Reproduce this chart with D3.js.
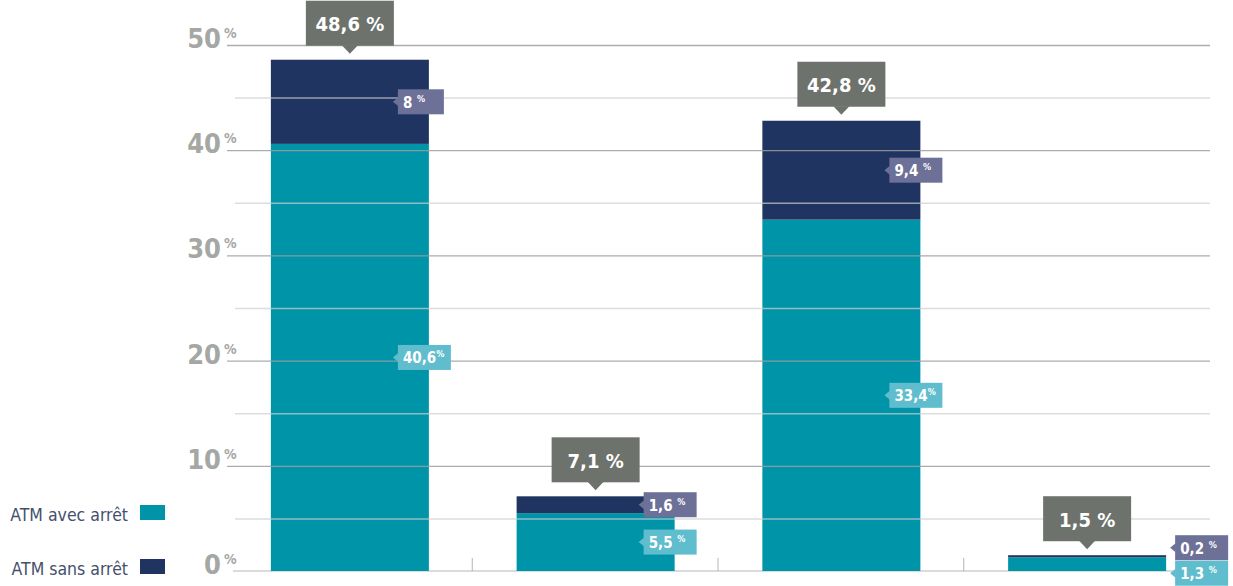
<!DOCTYPE html>
<html>
<head>
<meta charset="utf-8">
<script src="https://cdn.jsdelivr.net/npm/d3@7"></script>
<style>
  body { margin: 0; background: #fff; }
  svg { display: block; }
  text { font-family: "DejaVu Sans Condensed", "DejaVu Sans", sans-serif; }
</style>
</head>
<body>
<svg id="chart" width="1233" height="586"></svg>
<script>
// data
const categories = ["1", "2", "3", "4"];
const avecArret = [40.6, 5.5, 33.4, 1.3];
const sansArret = [8, 1.6, 9.4, 0.2];
const totals = [48.6, 7.1, 42.8, 1.5];
const seriesNames = ["ATM avec arrêt", "ATM sans arrêt"];

// colours
const teal = "#0094a9";
const navy = "#1f3460";
const totalGrey = "#6e726c";
const sansLabel = "#6d7097";
const avecLabel = "#5fbdcd";
const axisGrey = "#a5a7a4";

const svg = d3.select("#chart");

const y = d3.scaleLinear().domain([0, 50]).range([571, 45]);
const x = d3.scaleBand()
  .domain(categories)
  .range([227, 1210])
  .paddingInner(0.357)
  .paddingOuter(0.1785);

const fmt = v => String(v).replace(".", ",");

// baseline + category separators
svg.append("line")
  .attr("x1", 233).attr("x2", 1210)
  .attr("y1", y(0)).attr("y2", y(0))
  .attr("stroke", "#cfcfcf").attr("stroke-width", 1.5);

categories.slice(1).forEach(c => {
  const sx = x(c) - x.step() * x.paddingInner() / 2 - 0.5;
  svg.append("line")
    .attr("x1", sx).attr("x2", sx)
    .attr("y1", y(0) - 13).attr("y2", y(0))
    .attr("stroke", "#b5b5b5");
});

// bars
const bars = svg.append("g");
categories.forEach((c, i) => {
  bars.append("rect")
    .attr("x", x(c)).attr("width", x.bandwidth())
    .attr("y", y(avecArret[i])).attr("height", y(0) - y(avecArret[i]))
    .attr("fill", teal);
  bars.append("rect")
    .attr("x", x(c)).attr("width", x.bandwidth())
    .attr("y", y(totals[i])).attr("height", y(avecArret[i]) - y(totals[i]))
    .attr("fill", navy);
});

// gridlines on top of the bars (faint)
const minorTicks = d3.range(5, 50, 10);
svg.append("g").selectAll("line")
  .data(minorTicks)
  .join("line")
  .attr("x1", 235).attr("x2", 1210)
  .attr("y1", d => y(d) + 0.5).attr("y2", d => y(d) + 0.5)
  .attr("stroke", "#cfcfcf").attr("stroke-opacity", 0.7)
  .attr("stroke-width", 1.5);

const majorTicks = y.ticks(5).filter(d => d > 0);
svg.append("g").selectAll("line")
  .data(majorTicks)
  .join("line")
  .attr("x1", 227).attr("x2", 1210)
  .attr("y1", d => y(d) + 0.5).attr("y2", d => y(d) + 0.5)
  .attr("stroke", "#9e9e9e").attr("stroke-opacity", 0.85)
  .attr("stroke-width", 1.3);

// y axis labels
const yLab = svg.append("g").selectAll("g")
  .data(y.ticks(5))
  .join("g")
  .attr("transform", d => `translate(221,${y(d) + 3})`);
yLab.append("text")
  .attr("text-anchor", "end")
  .attr("font-size", 27).attr("font-weight", "bold")
  .attr("fill", axisGrey)
  .text(d => d);
yLab.append("text")
  .attr("x", 3).attr("y", -10)
  .attr("font-size", 14).attr("font-weight", "bold")
  .attr("fill", axisGrey)
  .text("%");

// total callouts
const boxW = 88, boxH = 45, gap = 14;
categories.forEach((c, i) => {
  const cx = x(c) + x.bandwidth() / 2;
  const bottom = y(totals[i]) - gap;
  const g = svg.append("g");
  g.append("rect")
    .attr("x", cx - boxW / 2).attr("y", bottom - boxH)
    .attr("width", boxW).attr("height", boxH)
    .attr("fill", totalGrey);
  g.append("path")
    .attr("d", `M${cx - 8},${bottom - 0.5}L${cx + 8},${bottom - 0.5}L${cx},${bottom + 8}Z`)
    .attr("fill", totalGrey);
  g.append("text")
    .attr("x", cx).attr("y", bottom - boxH / 2 + 8)
    .attr("text-anchor", "middle")
    .attr("font-size", 20).attr("font-weight", "bold")
    .attr("fill", "#fff")
    .text(fmt(totals[i]) + " %");
});

// segment labels
function segLabel(lx, cy, value, fill) {
  const w = value === 8 ? 46 : 53;
  const h = 25;
  const g = svg.append("g");
  g.append("rect")
    .attr("x", lx).attr("y", cy - h / 2)
    .attr("width", w).attr("height", h)
    .attr("fill", fill);
  g.append("path")
    .attr("d", `M${lx + 0.5},${cy - 4.5}L${lx - 5},${cy}L${lx + 0.5},${cy + 4.5}Z`)
    .attr("fill", fill);
  const t = g.append("text")
    .attr("x", lx + 5).attr("y", cy + 6)
    .attr("font-size", 15).attr("font-weight", "bold")
    .attr("fill", "#fff");
  // values under 10 get a space before the %
  t.append("tspan").text(fmt(value) + (value < 10 ? " " : ""));
  t.append("tspan").attr("dy", -6).attr("font-size", 9).text("%");
}

categories.forEach((c, i) => {
  let ySans = y(avecArret[i] + sansArret[i] / 2);
  let yAvec = y(avecArret[i] / 2);
  let lx = x(c) + x.bandwidth() - 31;
  // labels too close: push them apart and move beside the bar
  if (yAvec - ySans < 26) {
    const mid = (ySans + yAvec) / 2;
    ySans = mid - 12.5;
    yAvec = mid + 13;
    lx = x(c) + x.bandwidth() + 9;
  }
  segLabel(lx, ySans, sansArret[i], sansLabel);
  segLabel(lx, yAvec, avecArret[i], avecLabel);
});

// legend
const legend = svg.append("g").selectAll("g")
  .data(seriesNames)
  .join("g")
  .attr("transform", (d, i) => `translate(0,${512 + i * 54})`);
legend.append("text")
  .attr("x", 128).attr("y", 8.5)
  .attr("text-anchor", "end")
  .attr("font-size", 17.5)
  .attr("fill", "#44506c")
  .text(d => d);
legend.append("rect")
  .attr("x", 140).attr("y", -7)
  .attr("width", 25).attr("height", 15)
  .attr("fill", (d, i) => i === 0 ? teal : navy);
</script>
</body>
</html>
